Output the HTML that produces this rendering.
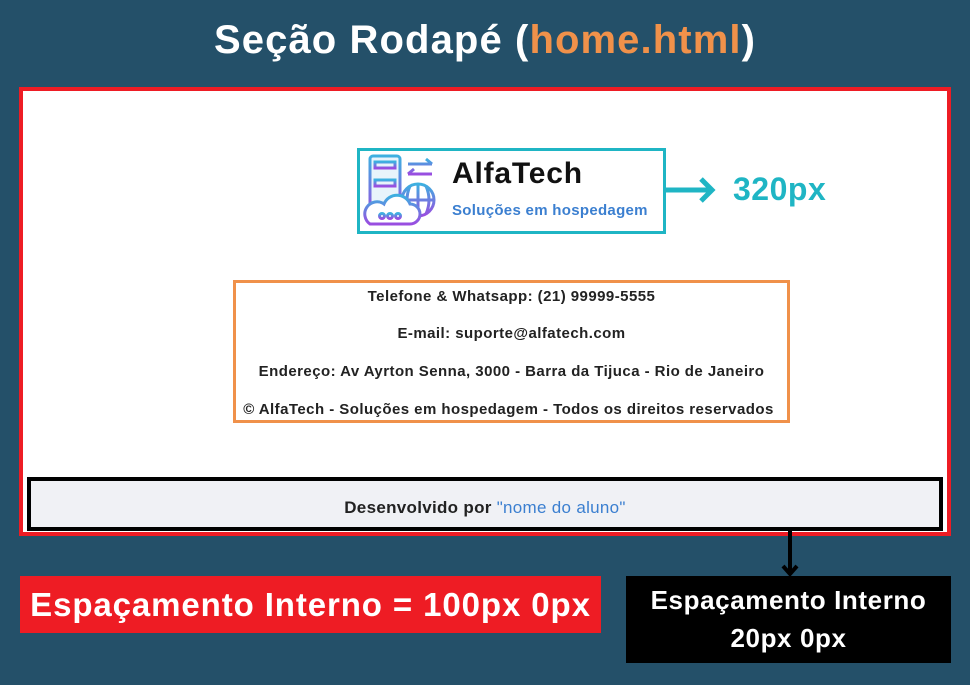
<!DOCTYPE html>
<html><head><meta charset="utf-8"><style>
body{margin:0;width:970px;height:685px;background:#245069;position:relative;overflow:hidden;font-family:"Liberation Sans",sans-serif}
.a{position:absolute;box-sizing:border-box}
.l{position:absolute;left:0;width:100%;text-align:center;font-size:15px;font-weight:bold;color:#222;letter-spacing:0.45px;line-height:20px}
</style></head><body>
<div class="a" style="left:0;top:18px;width:970px;text-align:center;color:#fff;font-size:40px;font-weight:bold;letter-spacing:1.1px">Seção Rodapé (<span style="color:#f0914a">home.html</span>)</div>
<div class="a" style="left:19px;top:87px;width:932px;height:449px;border:4px solid #ee1c24;background:#fff"></div>
<div class="a" style="left:27px;top:477px;width:916px;height:54px;border:4px solid #000;background:#f0f1f5;text-align:center;font-size:17px;font-weight:bold;line-height:54px;color:#222;letter-spacing:0.3px">Desenvolvido por <span style="color:#3b7fd0;font-weight:normal">"nome do aluno"</span></div>
<div class="a" style="left:357px;top:148px;width:309px;height:86px;border:3px solid #1fb5c4;background:#fff"></div>
<svg class="a" style="left:362px;top:152px" width="80" height="78" viewBox="0 0 80 78">
<defs><linearGradient id="g" x1="0" y1="0" x2="0" y2="1"><stop offset="0" stop-color="#3db0e0"/><stop offset="1" stop-color="#9a4de0"/></linearGradient></defs>
<g fill="none" stroke="url(#g)" stroke-width="3">
<rect x="8" y="4" width="30" height="60" rx="3" fill="#e8f4fb"/><line x1="8" y1="22" x2="38" y2="22"/><line x1="8" y1="40" x2="38" y2="40"/>
<rect x="13" y="10" width="20" height="6"/><rect x="13" y="28" width="20" height="6"/>
<path d="M46 12h24M64 7l6 5M46 22h24M52 17l-6 5"/>
<circle cx="56" cy="48" r="16" fill="#fff"/><path d="M40 48h32M56 32v32M48 34q-6 14 0 28M64 34q6 14 0 28"/>
<path d="M8 72h40a10 10 0 0 0 0-20a14 14 0 0 0-26 0a10 10 0 0 0-14 20z" fill="#fff"/>
<circle cx="20" cy="64" r="2.5"/><circle cx="28" cy="64" r="2.5"/><circle cx="36" cy="64" r="2.5"/></g></svg>
<div class="a" style="left:452px;top:157px;font-size:30px;font-weight:bold;color:#111;letter-spacing:0.8px">AlfaTech</div>
<div class="a" style="left:452px;top:202px;font-size:15px;color:#3b7fd0;letter-spacing:0.3px;font-weight:bold">Soluções em hospedagem</div>
<svg class="a" style="left:664px;top:175px" width="55" height="30"><path d="M0 15H48M37 4l11 11-11 11" stroke="#1fb5c4" stroke-width="5" fill="none"/></svg>
<div class="a" style="left:733px;top:171px;font-size:32px;font-weight:bold;color:#1fb5c4;letter-spacing:0.5px">320px</div>
<div class="a" style="left:233px;top:280px;width:557px;height:143px;border:3px solid #f0914a;background:#fff">
<div class="l" style="top:4px">Telefone &amp; Whatsapp: (21) 99999-5555</div>
<div class="l" style="top:41px">E-mail: suporte@alfatech.com</div>
<div class="l" style="top:79px">Endereço: Av Ayrton Senna, 3000 - Barra da Tijuca - Rio de Janeiro</div>
<div class="l" style="top:117px;left:-3px">© AlfaTech - Soluções em hospedagem - Todos os direitos reservados</div>
</div>
<svg class="a" style="left:780px;top:530px" width="20" height="48"><path d="M10 0V44M3 36l7 8 7-8" stroke="#000" stroke-width="4" fill="none"/></svg>
<div class="a" style="left:20px;top:576px;width:581px;height:57px;background:#ee1c24;color:#fff;font-size:33px;font-weight:bold;text-align:center;line-height:57px;letter-spacing:0.9px;white-space:nowrap">Espaçamento Interno = 100px 0px</div>
<div class="a" style="left:626px;top:576px;width:325px;height:87px;background:#000;color:#fff;font-size:26px;font-weight:bold;text-align:center;line-height:38px;padding-top:5px;letter-spacing:0.6px;white-space:nowrap">Espaçamento Interno<br>20px 0px</div>
</body></html>
